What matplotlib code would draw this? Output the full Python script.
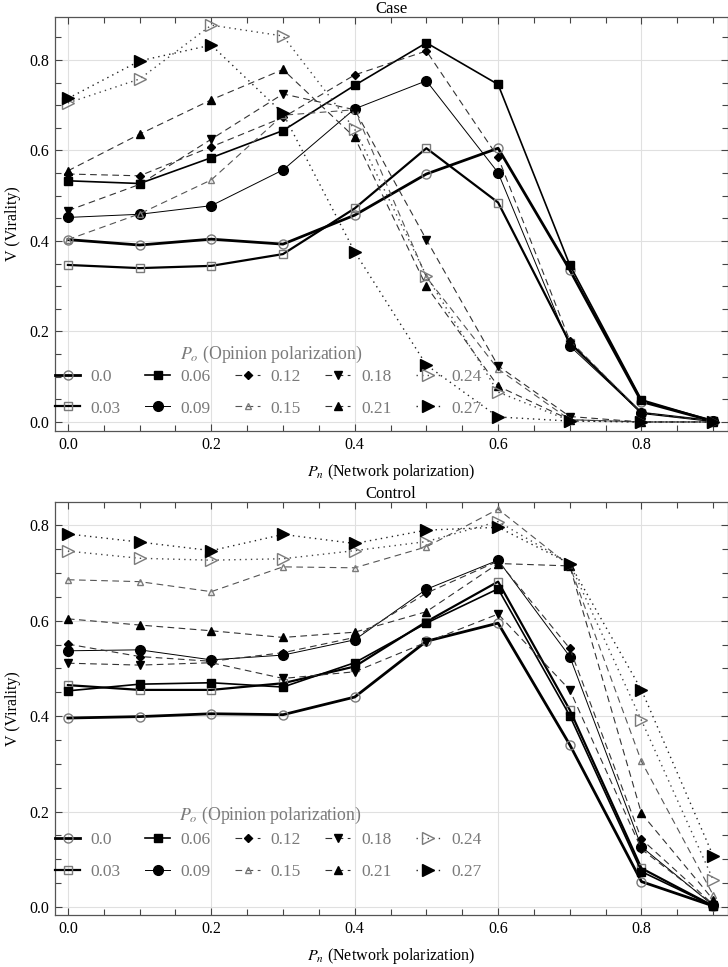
import matplotlib
matplotlib.use("Agg")
import matplotlib.pyplot as plt
from matplotlib.ticker import MultipleLocator

plt.rcParams['font.family'] = ['Liberation Serif', 'DejaVu Serif']
plt.rcParams['mathtext.fontset'] = 'stix'

# ---------------- data ----------------
pn = [0.0, 0.1, 0.2, 0.3, 0.4, 0.5, 0.6, 0.7, 0.8, 0.9]
po_labels = ["0.0", "0.03", "0.06", "0.09", "0.12", "0.15", "0.18", "0.21", "0.24", "0.27"]

case_00 = [0.403, 0.391, 0.404, 0.393, 0.457, 0.548, 0.605, 0.336, 0.045, 0.002]
case_03 = [0.347, 0.340, 0.345, 0.371, 0.472, 0.605, 0.485, 0.175, 0.020, 0.002]
case_06 = [0.533, 0.527, 0.584, 0.644, 0.744, 0.838, 0.746, 0.347, 0.049, 0.002]
case_09 = [0.452, 0.459, 0.478, 0.557, 0.692, 0.754, 0.551, 0.168, 0.020, 0.002]
case_12 = [0.548, 0.544, 0.608, 0.673, 0.767, 0.820, 0.585, 0.180, 0.020, 0.002]
case_15 = [0.403, 0.460, 0.535, 0.678, 0.690, 0.320, 0.117, 0.005, 0.000, 0.000]
case_18 = [0.467, 0.525, 0.625, 0.725, 0.690, 0.403, 0.124, 0.012, 0.000, 0.000]
case_21 = [0.555, 0.636, 0.712, 0.779, 0.629, 0.300, 0.079, 0.005, 0.000, 0.000]
case_24 = [0.705, 0.758, 0.877, 0.853, 0.647, 0.323, 0.066, 0.003, 0.000, 0.000]
case_27 = [0.715, 0.798, 0.833, 0.682, 0.376, 0.126, 0.011, 0.002, 0.000, 0.000]

ctrl_00 = [0.396, 0.399, 0.405, 0.403, 0.440, 0.557, 0.595, 0.340, 0.053, 0.002]
ctrl_03 = [0.465, 0.455, 0.455, 0.469, 0.504, 0.598, 0.682, 0.413, 0.081, 0.002]
ctrl_06 = [0.453, 0.467, 0.470, 0.461, 0.512, 0.595, 0.667, 0.401, 0.074, 0.002]
ctrl_09 = [0.537, 0.539, 0.518, 0.528, 0.560, 0.666, 0.727, 0.525, 0.126, 0.003]
ctrl_12 = [0.551, 0.525, 0.515, 0.533, 0.565, 0.658, 0.725, 0.542, 0.142, 0.005]
ctrl_15 = [0.686, 0.682, 0.661, 0.713, 0.711, 0.755, 0.834, 0.715, 0.305, 0.025]
ctrl_18 = [0.511, 0.507, 0.512, 0.479, 0.493, 0.555, 0.614, 0.455, 0.121, 0.005]
ctrl_21 = [0.604, 0.591, 0.579, 0.565, 0.576, 0.619, 0.720, 0.715, 0.196, 0.015]
ctrl_24 = [0.746, 0.731, 0.727, 0.730, 0.747, 0.766, 0.808, 0.720, 0.391, 0.057]
ctrl_27 = [0.782, 0.765, 0.747, 0.781, 0.762, 0.790, 0.796, 0.720, 0.455, 0.107]

case_series = [case_00, case_03, case_06, case_09, case_12, case_15, case_18, case_21, case_24, case_27]
ctrl_series = [ctrl_00, ctrl_03, ctrl_06, ctrl_09, ctrl_12, ctrl_15, ctrl_18, ctrl_21, ctrl_24, ctrl_27]

# ---------------- styles ----------------
GRAY = '#7a7a7a'
DASH = (0, (6, 4))
DOT = (0, (1, 3))
styles = [
    dict(ls='-', lw=2.0, color='black', marker='o', ms=6.5, mfc='none', mec=GRAY),
    dict(ls='-', lw=1.6, color='black', marker='s', ms=5.5, mfc='none', mec=GRAY),
    dict(ls='-', lw=1.2, color='black', marker='s', ms=5.5, mfc='black', mec='black'),
    dict(ls='-', lw=0.7, color='black', marker='o', ms=7, mfc='black', mec='black'),
    dict(ls=DASH, lw=0.8, color='#333333', marker='D', ms=4, mfc='black', mec='black'),
    dict(ls=DASH, lw=0.8, color='#555555', marker='^', ms=5, mfc='none', mec=GRAY),
    dict(ls=DASH, lw=0.8, color='#333333', marker='v', ms=6, mfc='black', mec='black'),
    dict(ls=DASH, lw=0.8, color='#333333', marker='^', ms=6, mfc='black', mec='black'),
    dict(ls=DOT, lw=1.0, color='#444444', marker='>', ms=9, mfc='none', mec=GRAY),
    dict(ls=DOT, lw=1.0, color='#222222', marker='>', ms=9, mfc='black', mec='black'),
]

fig = plt.figure(figsize=(7.28, 9.67), dpi=100)
ax_top = fig.add_axes([55/728, 1-431/967, 672.5/728, 414/967])
ax_bot = fig.add_axes([55/728, 1-915/967, 672.5/728, 413/967])


def draw(ax, series, title, ylim, leg_anchor, title_xy):
    handles = []
    for s, lab, st in zip(series, po_labels, styles):
        h, = ax.plot(pn, s, label=lab, **st)
        handles.append(h)
    ax.set_xlim(-0.018, 0.92)
    ax.set_ylim(*ylim)
    ax.xaxis.set_major_locator(MultipleLocator(0.2))
    ax.xaxis.set_minor_locator(MultipleLocator(0.05))
    ax.yaxis.set_major_locator(MultipleLocator(0.2))
    ax.yaxis.set_minor_locator(MultipleLocator(0.05))
    ax.tick_params(which='both', direction='in', top=True, right=True,
                   color='#444444', labelsize=11.5, pad=4)
    ax.tick_params(which='major', length=5, width=0.8)
    ax.tick_params(which='minor', length=4, width=0.8)
    ax.grid(True, which='major', color='#e0e0e0', lw=0.8)
    ax.set_axisbelow(True)
    for sp in ax.spines.values():
        sp.set_color('#555555')
        sp.set_linewidth(0.9)
    ax.set_title(title, fontsize=12, pad=2)
    ax.set_xlabel(r'$P_n$ (Network polarization)', fontsize=11.5, labelpad=6.5)
    ax.set_ylabel('V (Virality)', fontsize=11.5, labelpad=6)
    leg = ax.legend(handles=handles, ncol=5, loc='lower left',
                    bbox_to_anchor=leg_anchor, frameon=False, fontsize=12.5,
                    numpoints=1, handlelength=1.45, handletextpad=0.6,
                    columnspacing=1.4, labelspacing=0.9, borderaxespad=0,
                    borderpad=0)
    for t in leg.get_texts():
        t.set_color('#7a7a7a')
    ax.text(title_xy[0], title_xy[1], r'$P_o$ (Opinion polarization)',
            transform=ax.transAxes, ha='center', va='center',
            fontsize=12.8, color='#7a7a7a')


draw(ax_top, case_series, 'Case', (-0.02, 0.895), (0.0, 0.035), (0.321, 0.186))
draw(ax_bot, ctrl_series, 'Control', (-0.017, 0.849), (0.0, 0.085), (0.320, 0.240))

fig.savefig('out.png', dpi=100)
